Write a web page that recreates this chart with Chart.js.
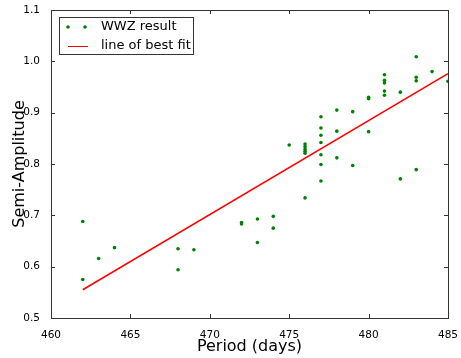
<!DOCTYPE html>
<html>
<head>
<meta charset="utf-8">
<script src="https://cdn.jsdelivr.net/npm/chart.js@4"></script>
<style>
  body { margin: 0; background: #fff; }
  #wrap { width: 461px; height: 358px; }
</style>
</head>
<body>
<div id="wrap"><canvas id="chart" width="461" height="358"></canvas></div>
<script>
// WWZ result points (period in days, semi-amplitude)
const periods = [462, 462, 463, 464, 468, 468, 469, 472, 472, 473, 473, 474, 474, 475,
    476, 476, 476, 476, 476, 476, 477, 477, 477, 477, 477, 477, 477, 478, 478, 478,
    479, 479, 480, 480, 480, 481, 481, 481, 481, 481, 482, 482, 483, 483, 483, 483, 484, 485];
const amplitudes = [0.688, 0.575, 0.616, 0.637, 0.635, 0.594, 0.633, 0.683, 0.686, 0.693, 0.647, 0.698, 0.675, 0.837,
    0.734, 0.839, 0.834, 0.829, 0.825, 0.821, 0.767, 0.892, 0.870, 0.856, 0.842, 0.818, 0.799, 0.905, 0.864, 0.812,
    0.902, 0.797, 0.930, 0.927, 0.863, 0.974, 0.963, 0.958, 0.942, 0.934, 0.940, 0.771, 1.009, 0.969, 0.962, 0.789, 0.980, 0.961];

// line of best fit end points
const fitX = [462, 485];
const fitY = [0.555, 0.976];

const xTicks = [460, 465, 470, 475, 480, 485];
const yTicks = [0.5, 0.6, 0.7, 0.8, 0.9, 1.0, 1.1];

const FONT = "'DejaVu Sans', sans-serif";

// matplotlib-like frame, inward ticks and legend inside the axes
const framePlugin = {
    id: 'frame',
    afterDraw(chart) {
        const { ctx, chartArea: a, scales: { x, y } } = chart;
        ctx.save();
        ctx.strokeStyle = '#333';
        ctx.lineWidth = 1;
        ctx.strokeRect(Math.round(a.left) + 0.5, Math.round(a.top) + 0.5,
            Math.round(a.width), Math.round(a.height));
        ctx.beginPath();
        xTicks.forEach(v => {
            const px = Math.round(x.getPixelForValue(v)) + 0.5;
            ctx.moveTo(px, a.bottom); ctx.lineTo(px, a.bottom - 4);
            ctx.moveTo(px, a.top); ctx.lineTo(px, a.top + 4);
        });
        yTicks.forEach(v => {
            const py = Math.round(y.getPixelForValue(v)) + 0.5;
            ctx.moveTo(a.left, py); ctx.lineTo(a.left + 4, py);
            ctx.moveTo(a.right, py); ctx.lineTo(a.right - 4, py);
        });
        ctx.stroke();

        // legend box
        const lx = a.left + 8, ly = a.top + 7;
        ctx.fillStyle = '#fff';
        ctx.fillRect(lx, ly, 134, 37);
        ctx.strokeStyle = '#333';
        ctx.strokeRect(lx + 0.5, ly + 0.5, 134, 37);
        ctx.fillStyle = '#008000';
        [lx + 9, lx + 26].forEach(cx => {
            ctx.beginPath(); ctx.arc(cx, ly + 10, 1.8, 0, Math.PI * 2); ctx.fill();
        });
        ctx.strokeStyle = '#ff0000';
        ctx.beginPath(); ctx.moveTo(lx + 9, ly + 29.5); ctx.lineTo(lx + 29, ly + 29.5); ctx.stroke();
        ctx.fillStyle = '#000';
        ctx.font = '13px ' + FONT;
        ctx.textBaseline = 'middle';
        ctx.fillText('WWZ result', lx + 42, ly + 10);
        ctx.fillText('line of best fit', lx + 42, ly + 29);
        ctx.restore();
    }
};

const ctx = document.getElementById('chart').getContext('2d');
new Chart(ctx, {
    data: {
        datasets: [{
            type: 'scatter',
            label: 'WWZ result',
            data: periods.map((p, i) => ({ x: p, y: amplitudes[i] })),
            backgroundColor: '#008000',
            borderColor: '#008000',
            pointRadius: 1.8,
            borderWidth: 0
        }, {
            type: 'line',
            label: 'line of best fit',
            data: fitX.map((p, i) => ({ x: p, y: fitY[i] })),
            borderColor: '#ff0000',
            borderWidth: 1.5,
            pointRadius: 0,
            fill: false
        }]
    },
    options: {
        responsive: false,
        animation: false,
        layout: { padding: { top: 10, right: 10, left: 0, bottom: 0 } },
        plugins: { legend: { display: false }, tooltip: { enabled: false } },
        scales: {
            x: {
                type: 'linear',
                min: 460,
                max: 485,
                afterBuildTicks: axis => { axis.ticks = xTicks.map(v => ({ value: v })); },
                afterFit: axis => { axis.height = 40; },
                grid: { display: false },
                border: { display: false },
                ticks: { color: '#000', padding: 3, font: { family: FONT, size: 10.5 } },
                title: { display: true, text: 'Period (days)', color: '#000', padding: { top: 2, bottom: 2 },
                    font: { family: FONT, size: 16 } }
            },
            y: {
                type: 'linear',
                min: 0.5,
                max: 1.1,
                afterBuildTicks: axis => { axis.ticks = yTicks.map(v => ({ value: v })); },
                afterFit: axis => { axis.width = 51; },
                grid: { display: false },
                border: { display: false },
                ticks: { color: '#000', padding: 3, font: { family: FONT, size: 10.5 },
                    callback: v => v.toFixed(1) },
                title: { display: true, text: 'Semi-Amplitude', color: '#000', padding: { top: 10, bottom: 0 },
                    font: { family: FONT, size: 16 } }
            }
        }
    },
    plugins: [framePlugin]
});
</script>
</body>
</html>
